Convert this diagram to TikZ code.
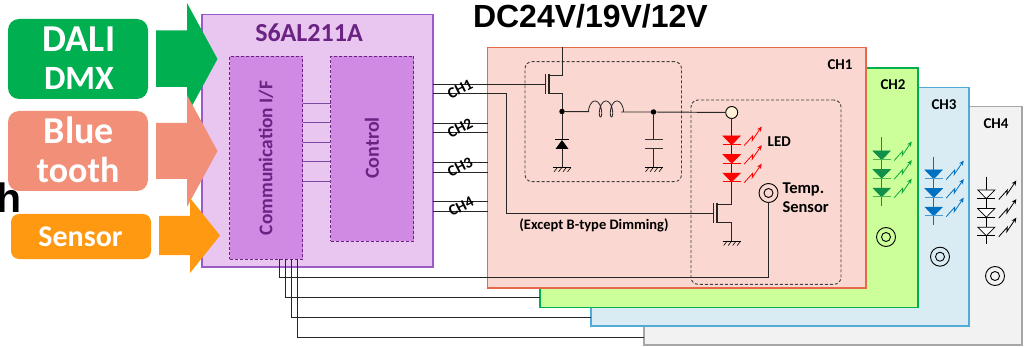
\documentclass[tikz,border=0pt]{standalone}
\usepackage{fontspec}
\setmainfont{Carlito}
\newfontfamily\headfont{Liberation Sans}
\usetikzlibrary{arrows.meta}
\definecolor{chipfill}{HTML}{E8C6F0}
\definecolor{chipline}{HTML}{9A5BC8}
\definecolor{innerfill}{HTML}{D08AE4}
\definecolor{purpletext}{HTML}{6A2382}
\definecolor{ledgreen}{HTML}{109048}
\definecolor{ledblue}{HTML}{0070C0}
\tikzset{
  every node/.style={inner sep=0pt,outer sep=0pt},
  tag/.style={rounded corners=11pt,text=white,font=\bfseries,align=center},
  panel/.style={draw,line width=1.1pt,anchor=north west},
  innerbox/.style={draw=purpletext,densely dashed,line width=0.8pt,fill=innerfill,anchor=north west},
  dashbox/.style={draw=black!75,densely dashed,line width=0.9pt,rounded corners=7pt,anchor=north west},
  wire/.style={line width=0.95pt,draw=black!85},
  captext/.style={font=\bfseries\fontsize{15}{15}\selectfont},
  chlabel/.style={font=\bfseries\fontsize{15.5}{15.5}\selectfont,rotate=27},
  ring/.style={draw=black,line width=0.9pt,circle,fill=none},
  dotnode/.style={circle,fill=black,minimum size=5.5pt},
}
% LED column: x, first triangle top, triangle colour, bar colour, arrow colour, triangle fill
\newcommand{\myled}[6]{%
  \foreach \n in {0,1,2}{%
    \pgfmathsetmacro{\yy}{#2+18.6*\n}
    \draw[#3,line width=0.7pt,fill=#6] (#1-8.5,\yy) -- (#1+8.5,\yy) -- (#1,\yy+8.6) -- cycle;
    \draw[#4,line width=1pt] (#1-9,\yy+8.8) -- (#1+9,\yy+8.8);
    \draw[#5,line width=0.8pt,-{Stealth[length=5pt,width=4.5pt]}]
      (#1+12.5,\yy+9.5) -- (#1+21,\yy+0) -- (#1+20.5,\yy+4.5) -- (#1+30,\yy-9.5);
  }%
}
\newcommand{\myground}[2]{%
  \draw[line width=0.8pt,black] (#1-9,#2) -- (#1+9,#2);
  \foreach \k in {-8,-3.5,1,5.5}{\draw[line width=0.6pt,black] (#1+\k,#2+4.5) -- (#1+\k+3.5,#2);}%
}
\begin{document}
\begin{tikzpicture}[x=1pt,y=-1pt]
\useasboundingbox (0,0) rectangle (1027,347);
% stray heading fragment
\node[font=\headfont\bfseries\fontsize{41}{41}\selectfont,anchor=base west] (frag) at (-3,213) {h};
% tags and arrows
\node[tag,fill={rgb,255:red,0;green,176;blue,80},minimum width=140pt,minimum height=80pt] (dali) at (78,59) {};
\node[font=\bfseries\fontsize{38}{38}\selectfont,text=white,anchor=base] (dalit) at (79,52) {DALI};
\node[font=\bfseries\fontsize{34}{38}\selectfont,text=white,anchor=base] (dmxt) at (79,89.5) {DMX};
\node[tag,fill={rgb,255:red,242;green,143;blue,120},minimum width=140pt,minimum height=80pt] (blue) at (78,151) {};
\node[font=\bfseries\fontsize{38}{38}\selectfont,text=white,anchor=base] (bluet) at (79,144) {Blue};
\node[font=\bfseries\fontsize{36}{38}\selectfont,text=white,anchor=base] (tootht) at (78,183) {tooth};
\node[tag,rounded corners=8pt,fill={rgb,255:red,255;green,153;blue,18},minimum width=140pt,minimum height=45pt] (sensor) at (81,236.5) {};
\node[font=\bfseries\fontsize{30}{30}\selectfont,text=white,anchor=base] (sensort) at (80.5,247) {Sensor};
% chip
\node[panel,draw=chipline,fill=chipfill,minimum width=231pt,minimum height=252.5pt] (chip) at (202,14.5) {};
\fill[fill={rgb,255:red,0;green,176;blue,80}] (156,30.5) -- (187,30.5) -- (187,3) -- (217.5,59) -- (187,115) -- (187,87) -- (156,87) -- cycle;
\fill[fill={rgb,255:red,242;green,143;blue,120}] (156,123) -- (187,123) -- (187,95) -- (217.5,151) -- (187,207) -- (187,179) -- (156,179) -- cycle;
\fill[fill={rgb,255:red,255;green,153;blue,18}] (159,216) -- (190,216) -- (190,198) -- (220,235.5) -- (190,273) -- (190,255) -- (159,255) -- cycle;
\node[font=\bfseries\fontsize{26}{26}\selectfont,text=purpletext] (chiptitle) at (309,33) {S6AL211A};
\node[innerbox,minimum width=73pt,minimum height=203pt] (comm) at (229.5,56) {};
\node[innerbox,minimum width=83pt,minimum height=185pt] (ctrl) at (330.5,56) {};
\node[rotate=90,font=\bfseries\fontsize{19.4}{19.4}\selectfont,text=purpletext] (commt) at (266,158) {Communication I/F};
\node[rotate=90,font=\bfseries\fontsize{20}{20}\selectfont,text=purpletext] (ctrlt) at (372,148) {Control};
\foreach \y in {103,122.5,142,161.5,181}{\draw[line width=0.9pt,chipline!80!black] (comm.east |- 0,\y) -- (ctrl.west |- 0,\y);}
% channel panels
\node[panel,draw=black!35,fill=black!5,minimum width=378pt,minimum height=238.5pt] (p4) at (644,106.5) {};
\node[panel,draw={rgb,255:red,80;green,172;blue,214},fill={rgb,255:red,217;green,236;blue,244},minimum width=378pt,minimum height=238.5pt] (p3) at (591,87.5) {};
\node[panel,draw={rgb,255:red,0;green,176;blue,80},fill={rgb,255:red,204;green,255;blue,153},minimum width=378pt,minimum height=239.5pt] (p2) at (540,68) {};
\node[panel,draw={rgb,255:red,232;green,105;blue,74},fill={rgb,255:red,250;green,215;blue,208},minimum width=378.5pt,minimum height=240.5pt] (p1) at (487.5,47.5) {};
\node[captext] (l1) at (840,64.5) {CH1};
\node[captext] (l2) at (893,85) {CH2};
\node[captext] (l3) at (944,105) {CH3};
\node[captext] (l4) at (996,124) {CH4};
% bottom wires from the interface
\coordinate (b1) at (279,277.5);\coordinate (b2) at (285,297.5);\coordinate (b3) at (291,317);\coordinate (b4) at (297,337);
\draw[wire] (b2 |- comm.south) -- (b2) -- (p2.west |- b2);
\draw[wire] (b3 |- comm.south) -- (b3) -- (p3.west |- b3);
\draw[wire] (b4 |- comm.south) -- (b4) -- (p4.west |- b4);
% channel wires
\foreach \y in {123.3,132.7,162.3,172,201.7,211}{\draw[wire] (chip.east |- 0,\y) -- (p1.west |- 0,\y);}
\coordinate (gate1) at (545.5,84.3);
\coordinate (gate2) at (713.3,213.7);
\draw[wire] (chip.east |- gate1) -- (gate1);
\draw[wire] (chip.east |- 0,93.7) -- (506.7,93.7) -- (506.7,213.7) -- (gate2);
\node[chlabel] (c1) at (460,89) {CH1};
\node[chlabel] (c2) at (460,128) {CH2};
\node[chlabel] (c3) at (460,167) {CH3};
\node[chlabel] (c4) at (461,206.5) {CH4};
% dashed boxes
\node[dashbox,minimum width=156.5pt,minimum height=120pt] (buck) at (525,61.7) {};
\node[dashbox,minimum width=150pt,minimum height=184.3pt] (ledbox) at (691,100) {};
% high side FET
\draw[wire] (562,47.5) -- (562,75) -- (549,75);
\draw[wire,line width=1.1pt] (549,74) -- (549,94.5);
\draw[wire,line width=1.1pt] (545.5,74) -- (545.5,94.5);
\draw[wire] (549,93.7) -- (562,93.7) -- (562,111.5);
\node[dotnode] (n1) at (562,111.5) {};
\node[dotnode] (n2) at (653.5,112) {};
\node[draw=black,line width=0.9pt,circle,fill={rgb,255:red,255;green,242;blue,214},minimum size=12pt] (out) at (731.7,112.5) {};
\draw[wire] (n1) -- (589,111.7);
\draw[wire,line width=0.8pt] plot[domain=-110:830,samples=90,smooth] ({595+1.75*\x*pi/180+3.5*sin(\x)},{109-8*cos(\x)});
\draw[wire] (621,112) -- (n2) -- (out);
% diode
\draw[wire] (n1) -- (562,140);
\fill[black] (562,140) -- (568.5,149) -- (555.5,149) -- cycle;
\draw[line width=1.2pt] (555,139.6) -- (569,139.6);
\draw[wire] (562,149) -- (562,167);
\myground{562}{167.3}
% capacitor
\draw[wire] (n2) -- (653.5,139.3);
\draw[line width=1.2pt,black!80] (645,139.3) -- (663,139.3);
\draw[line width=1.2pt,black!80] (645,148.7) -- (663,148.7);
\draw[wire] (653.5,148.7) -- (653.5,167);
\myground{653.5}{167.3}
% LED string and low side FET
\draw[wire] (out) -- (731.7,204.3) -- (717,204.3);
\myled{731.7}{136}{red}{red}{red}{red}
\draw[wire,line width=1.1pt] (717,203.5) -- (717,223);
\draw[wire,line width=1.1pt] (713.3,203.5) -- (713.3,223);
\draw[wire] (717,222.7) -- (731.7,222.7) -- (731.7,241);
\myground{731.7}{241}
\node[captext,anchor=west] (ledt) at (767.7,142) {LED};
% temperature sensor
\node[ring,minimum size=19pt] (t1) at (768.5,193) {};
\node[ring,minimum size=9pt] (t1i) at (768.5,193) {};
\draw[wire] (b1 |- comm.south) -- (b1) -- (768.5,277.5) -- (t1);
\node[anchor=base west,font=\bfseries\fontsize{16.5}{16.5}\selectfont] (tt) at (782.5,194) {Temp.};
\node[anchor=base west,font=\bfseries\fontsize{16.5}{16.5}\selectfont] (ts) at (782.5,212.7) {Sensor};
\node[font=\bfseries\fontsize{14.5}{14.5}\selectfont] (exc) at (594,225.5) {(Except B-type Dimming)};
% other channels
\draw[line width=0.9pt,ledgreen] (881.7,137) -- (881.7,205.7);
\myled{881.7}{151}{ledgreen}{green!60!black!70!white}{ledgreen!80!green}{ledgreen}
\node[ring,minimum size=19pt] (t2) at (886,237) {};
\node[ring,minimum size=9pt] (t2i) at (886,237) {};
\draw[line width=0.9pt,ledblue] (933.7,156.7) -- (933.7,225);
\myled{933.7}{170}{ledblue}{ledblue!70!white}{ledblue}{ledblue}
\node[ring,minimum size=19pt] (t3) at (940,256.7) {};
\node[ring,minimum size=9pt] (t3i) at (940,256.7) {};
\draw[line width=0.9pt,black] (986.3,176.7) -- (986.3,244);
\myled{986.3}{190}{black}{black}{black}{white}
\node[ring,minimum size=19pt] (t4) at (995,276) {};
\node[ring,minimum size=9pt] (t4i) at (995,276) {};
% supply label
\node[font=\headfont\bfseries\fontsize{32}{32}\selectfont,anchor=base west] (dc) at (473,27.7) {DC24V/19V/12V};
\end{tikzpicture}
\end{document}
